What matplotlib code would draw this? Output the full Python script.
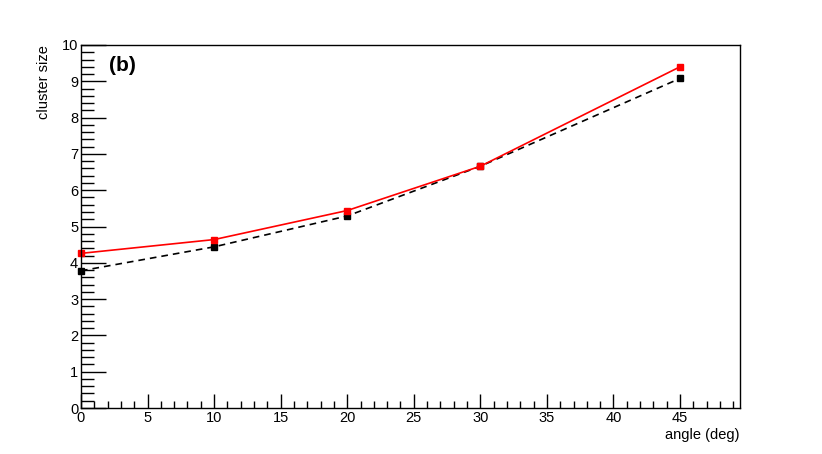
import matplotlib
matplotlib.use('Agg')
import matplotlib.pyplot as plt
from matplotlib.ticker import MultipleLocator

plt.rcParams['font.family'] = ['Liberation Sans', 'DejaVu Sans']

angle = [0, 10, 20, 30, 45]
size_red = [4.26, 4.64, 5.44, 6.66, 9.40]
size_black = [3.78, 4.44, 5.29, 6.66, 9.08]

fig = plt.figure(figsize=(8.22, 4.54), dpi=100)
ax = fig.add_axes([0.0985, 0.1013, 0.8017, 0.7996])

ax.plot(angle, size_black, color='black', linestyle='--', linewidth=1.2,
        marker='s', markersize=4.5, dashes=(4, 3), clip_on=False)
ax.plot(angle, size_red, color='red', linestyle='-', linewidth=1.2,
        marker='s', markersize=4.5, clip_on=False)

ax.set_xlim(0, 49.5)
ax.set_ylim(0, 10)
ax.xaxis.set_major_locator(MultipleLocator(5))
ax.xaxis.set_minor_locator(MultipleLocator(1))
ax.yaxis.set_major_locator(MultipleLocator(1))
ax.yaxis.set_minor_locator(MultipleLocator(0.2))

ax.tick_params(axis='both', which='both', direction='in', top=False, right=False,
               labelsize=10.5, width=1)
ax.tick_params(axis='x', which='major', length=10, pad=2)
ax.tick_params(axis='x', which='minor', length=5)
ax.tick_params(axis='y', which='major', length=18, pad=2)
ax.tick_params(axis='y', which='minor', length=9)
for s in ax.spines.values():
    s.set_linewidth(1)

ax.set_xlabel('angle (deg)', fontsize=10.5, loc='right', labelpad=2)
ax.set_ylabel('cluster size', fontsize=10.5, loc='top', labelpad=8)

ax.text(0.043, 0.97, '(b)', transform=ax.transAxes, fontsize=15,
        fontweight='bold', va='top', ha='left')

fig.savefig('out.png', dpi=100)
